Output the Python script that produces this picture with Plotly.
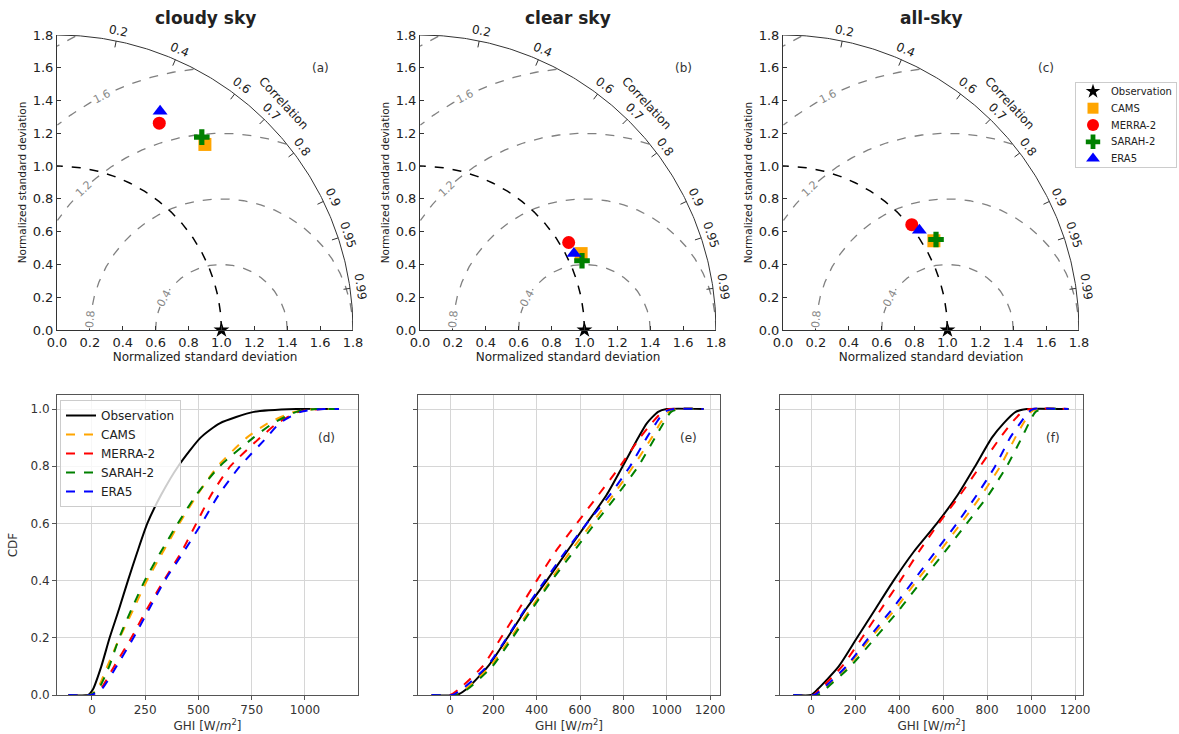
import numpy as np
import plotly.graph_objects as go

FONT = "DejaVu Sans"

# ---------------- data ----------------
SERIES = ["Observation", "CAMS", "MERRA-2", "SARAH-2", "ERA5"]
MODELS = ["CAMS", "MERRA-2", "SARAH-2", "ERA5"]
COLORS = ["#000000", "#FFA500", "#FF0000", "#008000", "#0000FF"]
SYMBOLS = ["star", "square", "circle", "cross", "triangle-up"]

PANEL_TITLES = ["cloudy sky", "clear sky", "all-sky"]
TAYLOR_TAGS = ["(a)", "(b)", "(c)"]
CDF_TAGS = ["(d)", "(e)", "(f)"]

# Taylor statistics (normalized std, correlation) for CAMS, MERRA-2, SARAH-2, ERA5
STD_CLOUDY = [1.446, 1.407, 1.470, 1.475]
CORR_CLOUDY = [0.622, 0.442, 0.599, 0.425]
STD_CLEAR = [1.085, 1.050, 1.072, 1.046]
CORR_CLEAR = [0.903, 0.861, 0.919, 0.895]
STD_ALL = [1.067, 1.013, 1.082, 1.029]
CORR_ALL = [0.860, 0.773, 0.860, 0.806]
REF_STD = 1.0
STD_MAX = 1.8
RMS_LEVELS = [0.4, 0.8, 1.2, 1.6, 2.0]
RMS_LABELS = ["0.4", "0.8", "1.2", "1.6"]
CORR_TICKS = [0.2, 0.4, 0.6, 0.7, 0.8, 0.9, 0.95, 0.99]
STD_TICKS = [0.0, 0.2, 0.4, 0.6, 0.8, 1.0, 1.2, 1.4, 1.6, 1.8]

# CDF curves: GHI value reached at each CDF level
CDF_LEVELS = [0, 0, 0.02, 0.1, 0.2, 0.3, 0.4, 0.5, 0.6, 0.7, 0.8, 0.9, 0.95, 0.99, 1.0, 1.0]
CLOUDY_OBS = [-110, -18, 5, 44, 83, 127, 169, 213, 260, 325, 405, 510, 600, 760, 960, 1150]
CLOUDY_CAMS = [-110, -10, 25, 72, 130, 195, 258, 333, 410, 495, 590, 727, 825, 950, 1050, 1150]
CLOUDY_MERRA = [-110, -5, 40, 104, 185, 258, 337, 420, 490, 560, 650, 790, 870, 970, 1080, 1150]
CLOUDY_SARAH = [-110, -10, 30, 81, 128, 186, 248, 323, 403, 490, 600, 758, 850, 960, 1050, 1150]
CLOUDY_ERA5 = [-110, -5, 45, 115, 195, 268, 342, 430, 515, 595, 695, 820, 880, 980, 1090, 1160]

CLEAR_OBS = [-85, 30, 75, 175, 265, 350, 446, 538, 631, 723, 797, 869, 908, 960, 1000, 1170]
CLEAR_CAMS = [-85, 20, 70, 185, 280, 370, 462, 554, 654, 754, 846, 931, 970, 1010, 1046, 1170]
CLEAR_MERRA = [-85, 0, 40, 150, 235, 318, 400, 485, 585, 685, 785, 877, 930, 980, 1015, 1170]
CLEAR_SARAH = [-85, 30, 80, 195, 288, 378, 469, 569, 669, 772, 869, 946, 985, 1020, 1062, 1170]
CLEAR_ERA5 = [-85, 10, 55, 170, 262, 346, 438, 531, 631, 738, 831, 908, 950, 990, 1031, 1170]

ALL_OBS = [-80, 0, 30, 126, 209, 292, 375, 466, 572, 667, 746, 822, 875, 930, 981, 1170]
ALL_CAMS = [-80, 20, 55, 166, 272, 383, 481, 583, 681, 776, 860, 928, 965, 1000, 1026, 1170]
ALL_MERRA = [-80, 10, 40, 141, 232, 318, 406, 489, 580, 678, 769, 860, 910, 960, 996, 1170]
ALL_SARAH = [-80, 30, 65, 179, 292, 403, 504, 607, 708, 807, 890, 958, 990, 1020, 1056, 1170]
ALL_ERA5 = [-80, 15, 50, 160, 262, 368, 466, 564, 663, 754, 837, 905, 950, 990, 1011, 1170]

CDF_XTICKS_D = [0, 250, 500, 750, 1000]
CDF_XTICKS_EF = [0, 200, 400, 600, 800, 1000, 1200]
CDF_YTICKS = [0.0, 0.2, 0.4, 0.6, 0.8, 1.0]

# ---------------- layout geometry ----------------
W, H = 1179, 734
TAYLOR_X = [(57 / W, 353 / W), (420 / W, 716 / W), (783 / W, 1079 / W)]
TAYLOR_Y = (1 - 330 / H, 1 - 35 / H)
CDF_X = [(57 / W, 358 / W), (418 / W, 720 / W), (780 / W, 1083 / W)]
CDF_Y = (1 - 695 / H, 1 - 395 / H)
CDF_XRANGE = [(-164, 1249), (-148, 1246), (-141, 1236)]
MLEG_X = (1076 / W, 1176 / W)
MLEG_Y = (1 - 167 / H, 1 - 83 / H)


def to_paper(p, x, y):
    """Map Taylor data coordinates of panel p to paper coordinates."""
    x0, x1 = TAYLOR_X[p]
    y0, y1 = TAYLOR_Y
    return x0 + x / STD_MAX * (x1 - x0), y0 + y / STD_MAX * (y1 - y0)


fig = go.Figure()
layout = dict(
    width=W, height=H, margin=dict(l=0, r=0, t=0, b=0, autoexpand=False),
    paper_bgcolor="white", plot_bgcolor="white",
    font=dict(family=FONT, color="#222"), showlegend=True,
)
annotations = []

taylor_std = [STD_CLOUDY, STD_CLEAR, STD_ALL]
taylor_corr = [CORR_CLOUDY, CORR_CLEAR, CORR_ALL]

theta = np.linspace(0, np.pi / 2, 200)
for p in range(3):
    xa = "x" if p == 0 else f"x{p + 1}"
    ya = "y" if p == 0 else f"y{p + 1}"
    # RMS contours centred on reference
    for lvl in RMS_LEVELS:
        phi = np.linspace(0, np.pi, 400)
        xs = REF_STD + lvl * np.cos(phi)
        ys = lvl * np.sin(phi)
        keep = (xs >= 0) & (xs ** 2 + ys ** 2 <= STD_MAX ** 2 + 1e-9)
        fig.add_trace(go.Scatter(x=xs[keep], y=ys[keep], mode="lines", xaxis=xa, yaxis=ya,
                                 line=dict(color="#808080", width=1.3, dash="dash"),
                                 showlegend=False, hoverinfo="skip"))
    # reference std arc
    fig.add_trace(go.Scatter(x=REF_STD * np.cos(theta), y=REF_STD * np.sin(theta), mode="lines",
                             xaxis=xa, yaxis=ya, line=dict(color="black", width=1.5, dash="dash"),
                             showlegend=False, hoverinfo="skip"))
    # outer arc
    fig.add_trace(go.Scatter(x=STD_MAX * np.cos(theta), y=STD_MAX * np.sin(theta), mode="lines",
                             xaxis=xa, yaxis=ya, line=dict(color="#333", width=1),
                             showlegend=False, hoverinfo="skip", cliponaxis=False))
    # correlation ticks
    tx, ty = [], []
    for c in CORR_TICKS:
        a = np.arccos(c)
        tx += [STD_MAX * np.cos(a), (STD_MAX - 0.04) * np.cos(a), None]
        ty += [STD_MAX * np.sin(a), (STD_MAX - 0.04) * np.sin(a), None]
    fig.add_trace(go.Scatter(x=tx, y=ty, mode="lines", xaxis=xa, yaxis=ya,
                             line=dict(color="#333", width=1), showlegend=False, hoverinfo="skip"))
    # correlation labels (paper coordinates so they are not hidden outside the axis range)
    for c in CORR_TICKS:
        a = np.arccos(c)
        px, py = to_paper(p, 1.865 * np.cos(a), 1.865 * np.sin(a))
        annotations.append(dict(x=px, y=py, xref="paper", yref="paper", xanchor="center", yanchor="middle",
                                text=f"{c:g}", showarrow=False, textangle=90 - np.degrees(a),
                                font=dict(size=12, color="#222")))
    px, py = to_paper(p, 1.955 * np.cos(np.radians(45.2)), 1.955 * np.sin(np.radians(45.2)))
    annotations.append(dict(x=px, y=py, xref="paper", yref="paper", xanchor="center", yanchor="middle",
                            text="Correlation", showarrow=False, textangle=47,
                            font=dict(size=12, color="#222")))
    # RMS labels
    for lab, lvl, ang in zip(RMS_LABELS, RMS_LEVELS, [151, 175, 134, 117]):
        r = np.radians(ang)
        annotations.append(dict(x=REF_STD + lvl * np.cos(r), y=lvl * np.sin(r), xref=xa, yref=ya,
                                text=lab, showarrow=False, textangle=-(ang - 90),
                                font=dict(size=11, color="#888"), bgcolor="white", borderpad=0))
    # observation
    fig.add_trace(go.Scatter(x=[REF_STD], y=[0], mode="markers", xaxis=xa, yaxis=ya, name="Observation",
                             marker=dict(symbol=SYMBOLS[0], color=COLORS[0], size=12),
                             cliponaxis=False, showlegend=False))
    for i, m in enumerate(MODELS):
        s = taylor_std[p][i]
        c = taylor_corr[p][i]
        fig.add_trace(go.Scatter(x=[s * c], y=[s * np.sqrt(1 - c ** 2)], mode="markers",
                                 xaxis=xa, yaxis=ya, name=m, showlegend=False,
                                 marker=dict(symbol=SYMBOLS[i + 1], color=COLORS[i + 1], size=13,
                                             line=dict(width=0))))
    axcommon = dict(range=[0, STD_MAX], tickvals=STD_TICKS, ticktext=[f"{v:.1f}" for v in STD_TICKS],
                    showgrid=False, zeroline=False, showline=True, linecolor="#333", linewidth=1,
                    ticks="inside", ticklen=4, tickcolor="#333", tickfont=dict(size=13, color="#222"),
                    mirror=False)
    layout["xaxis" if p == 0 else f"xaxis{p + 1}"] = dict(
        axcommon, domain=TAYLOR_X[p], anchor=ya,
        title=dict(text="Normalized standard deviation", font=dict(size=12, color="#222"), standoff=0))
    layout["yaxis" if p == 0 else f"yaxis{p + 1}"] = dict(
        axcommon, domain=TAYLOR_Y, anchor=xa,
        title=dict(text="Normalized standard deviation", font=dict(size=10.5, color="#222"), standoff=4))
    cx = (TAYLOR_X[p][0] + TAYLOR_X[p][1]) / 2
    annotations.append(dict(x=cx, y=1 - 18 / H, xref="paper", yref="paper", xanchor="center",
                            yanchor="middle", text=f"<b>{PANEL_TITLES[p]}</b>",
                            showarrow=False, font=dict(size=17, color="#222")))
    annotations.append(dict(x=1.6, y=1.6, xref=xa, yref=ya, text=TAYLOR_TAGS[p], showarrow=False,
                            font=dict(size=12, color="#333")))

# ---------------- marker key (Taylor diagrams) ----------------
key_rows = list(range(1, len(SERIES) + 1))
fig.add_trace(go.Scatter(x=[0.17] * len(SERIES), y=key_rows, mode="markers", xaxis="x7", yaxis="y7",
                         marker=dict(symbol=SYMBOLS, color=COLORS, size=[11, 11, 12, 12, 12],
                                     opacity=1, line=dict(width=0)),
                         showlegend=False, hoverinfo="skip"))
for row, name in zip(key_rows, SERIES):
    annotations.append(dict(x=0.33, y=row, xref="x7", yref="y7", xanchor="left", yanchor="middle",
                            text=name, showarrow=False, font=dict(size=10, color="#222")))
layout["xaxis7"] = dict(domain=MLEG_X, anchor="y7", range=[0, 1], showgrid=False, zeroline=False,
                        showticklabels=False, ticks="", showline=True, mirror=True, linecolor="#cccccc",
                        fixedrange=True)
layout["yaxis7"] = dict(domain=MLEG_Y, anchor="x7", range=[len(SERIES) + 0.5, 0.5], showgrid=False,
                        zeroline=False, showticklabels=False, ticks="", showline=True, mirror=True,
                        linecolor="#cccccc", fixedrange=True)

# ---------------- CDF panels ----------------
cdf_data = [
    [CLOUDY_OBS, CLOUDY_CAMS, CLOUDY_MERRA, CLOUDY_SARAH, CLOUDY_ERA5],
    [CLEAR_OBS, CLEAR_CAMS, CLEAR_MERRA, CLEAR_SARAH, CLEAR_ERA5],
    [ALL_OBS, ALL_CAMS, ALL_MERRA, ALL_SARAH, ALL_ERA5],
]
for p in range(3):
    k = p + 4
    xa, ya = f"x{k}", f"y{k}"
    for j, name in enumerate(SERIES):
        fig.add_trace(go.Scatter(x=cdf_data[p][j], y=CDF_LEVELS, mode="lines", xaxis=xa, yaxis=ya,
                                 name=name, legend="legend2", showlegend=(p == 0),
                                 line=dict(color=COLORS[j], width=2, dash="solid" if j == 0 else "dash",
                                           shape="spline", smoothing=0.6),
                                 hoverinfo="skip"))
    xt = CDF_XTICKS_D if p == 0 else CDF_XTICKS_EF
    layout[f"xaxis{k}"] = dict(domain=CDF_X[p], anchor=ya, range=list(CDF_XRANGE[p]), tickvals=xt,
                               showgrid=True, gridcolor="#d6d6d6", gridwidth=1, zeroline=False,
                               showline=True, mirror=True, linecolor="#555", linewidth=1,
                               ticks="outside", ticklen=4, tickcolor="#555",
                               tickfont=dict(size=12, color="#333"),
                               title=dict(text="GHI [W/<i>m</i><sup>2</sup>]", font=dict(size=12, color="#333"),
                                          standoff=2))
    ydict = dict(domain=CDF_Y, anchor=xa, range=[0, 1.049], tickvals=CDF_YTICKS,
                 showgrid=True, gridcolor="#d6d6d6", gridwidth=1, zeroline=False,
                 showline=True, mirror=True, linecolor="#555", linewidth=1,
                 ticks="outside", ticklen=4, tickcolor="#555",
                 tickfont=dict(size=12, color="#333"))
    if p == 0:
        ydict["ticktext"] = [f"{v:.1f}" for v in CDF_YTICKS]
        ydict["title"] = dict(text="CDF", font=dict(size=12, color="#333"), standoff=10)
    else:
        ydict["showticklabels"] = False
    layout[f"yaxis{k}"] = ydict
    annotations.append(dict(x=1100, y=0.9, xref=xa, yref=ya, text=CDF_TAGS[p], showarrow=False,
                            font=dict(size=12, color="#333")))

layout["legend2"] = dict(x=60 / W, y=1 - 400 / H, xanchor="left", yanchor="top",
                         bordercolor="#cccccc", borderwidth=1, bgcolor="rgba(255,255,255,0.8)",
                         font=dict(size=12, color="#222"), tracegroupgap=0)
layout["annotations"] = annotations
fig.update_layout(**layout)
fig.write_html("out.html", config={"displayModeBar": False},
               post_script="document.body.style.margin='0';document.body.style.overflow='hidden';")
